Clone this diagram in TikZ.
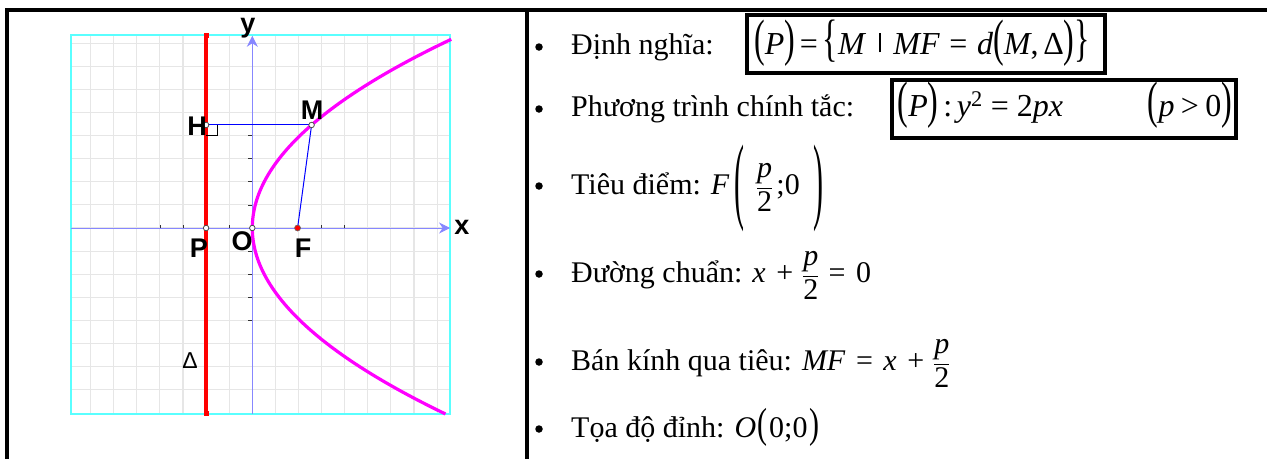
\documentclass[tikz,border=0pt]{standalone}
\usepackage{fontspec}
\setmainfont{Liberation Serif}
\newfontfamily\lsans{Liberation Sans}
\usetikzlibrary{arrows.meta}
\definecolor{gridc}{RGB}{230,230,230}
\definecolor{framec}{RGB}{90,255,255}
\definecolor{axisc}{RGB}{135,135,255}
\definecolor{magc}{RGB}{255,0,255}
\definecolor{redc}{RGB}{255,0,0}
\definecolor{segc}{RGB}{0,0,255}
\newcommand\I[1]{\textit{#1}}
\newcommand\tpar[3]{\raisebox{#2}{\scalebox{1}[#1]{#3}}}
\newcommand\pq[1]{\tpar{1.6}{-0.05em}{#1}}
\newcommand\bq[1]{\tpar{3.2}{-0.58em}{#1}}
\newcommand\oq[1]{\tpar{1.4}{-0.03em}{#1}}
\newcommand\fr[2]{$\displaystyle\frac{\mbox{#1}}{\mbox{#2}}$}
\newcommand\vbar{\rule[0.05em]{0.05em}{0.6em}}
\newcommand\hsp[1]{\hspace{#1em}}
\begin{document}
\begin{tikzpicture}[x=1pt,y=-1pt,
  tbl/.style={line width=4pt,black},
  gridl/.style={gridc,line width=1.1pt},
  framel/.style={framec,line width=1.4pt},
  axisl/.style={axisc,line width=1pt},
  tickl/.style={black!80,line width=0.8pt},
  seg/.style={segc,line width=1pt},
  pt/.style={circle,draw=black!70,fill=white,line width=0.8pt,inner sep=0pt,minimum size=5.5pt},
  fpt/.style={circle,draw=black!60,fill=redc,line width=0.6pt,inner sep=0pt,minimum size=6pt},
  lbl/.style={font=\lsans\bfseries\fontsize{27}{27}\selectfont,inner sep=0pt,anchor=base},
  txt/.style={font=\fontsize{30}{36}\selectfont,inner sep=0pt,anchor=base west},
  bul/.style={circle,fill=black,inner sep=0pt,minimum size=7.5pt},
  fbox/.style={draw=black,line width=4pt,font=\fontsize{32}{38}\selectfont,inner xsep=4pt,inner ysep=8pt,anchor=base west}
]
\useasboundingbox (0,0) rectangle (1267,459);
% table
\draw[tbl] (5,10) -- (1267,10);
\draw[tbl] (7,8) -- (7,459);
\draw[tbl] (526.5,8) -- (526.5,459);
% graph
\begin{scope}[shift={(252.3,228)},x=23.1pt,y=23.1pt]
  \foreach \i in {-7,...,8} \draw[gridl] (\i,-8.05) -- (\i,8.35);
  \foreach \j in {-7,...,8} \draw[gridl] (-7.85,\j) -- (8.56,\j);
  \draw[framel] (-7.85,-8.05) rectangle (8.56,8.35);
  \coordinate (O) at (0,0);
  \coordinate (P) at (-2,0);
  \coordinate (F) at (1.96,0);
  \coordinate (M) at (2.567,4.46);
  \coordinate (H) at (-2,4.46);
  \coordinate (xs) at (-7.85,0);
  \coordinate (xe) at (8.56,0);
  \coordinate (ys) at (0,-8.05);
  \coordinate (ye) at (0,8.32);
  \coordinate (Dt) at (-2,8.35);
  \coordinate (Db) at (-2,-8.05);
  \draw[axisl,-{Stealth[length=11pt,width=11pt]}] (xs) -- (xe);
  \draw[axisl,-{Stealth[length=11pt,width=11pt]}] (ys) -- (ye);
  \foreach \i in {-4,-3,-1,3,4} \draw[tickl] (\i,0) -- (\i,0.14);
  \foreach \j in {-4,-3,-2,-1,1,2,3,4} \draw[tickl] (0,\j) -- (-0.17,\j);
  \draw[redc,line width=3.4pt] (Db) -- (Dt);
  \fill[redc] ([xshift=-2.6pt,yshift=-2.5pt]Dt) rectangle ([xshift=2.6pt,yshift=2.5pt]Dt);
  \fill[redc] ([xshift=-2.6pt,yshift=-2.5pt]Db) rectangle ([xshift=2.6pt,yshift=2.5pt]Db);
  \draw[magc,line width=3.2pt] plot[variable=\t,domain=-8.05:8.17,samples=120,smooth] ({\t*\t/7.75},\t);
  \draw[seg] (H) -- (M);
  \draw[seg] (M) -- (F);
  \draw[black,line width=0.8pt] ([xshift=11pt]H) -- ([xshift=11pt,yshift=-10pt]H) -- ([yshift=-10pt]H);
  \node[pt] (nH) at (H) {};
  \node[pt] (nM) at (M) {};
  \node[pt] (nP) at (P) {};
  \node[pt] (nO) at (O) {};
  \node[fpt] (nF) at (F) {};
\end{scope}
\node[lbl] (ly) at (248,32) {y};
\node[lbl] (lx) at (462,234) {x};
\node[lbl] (lM) at (312,119) {M};
\node[lbl] (lH) at (197,135) {H};
\node[lbl] (lP) at (199,257) {P};
\node[lbl] (lO) at (242,250) {O};
\node[lbl] (lF) at (303,257) {F};
\node[font=\lsans\fontsize{23}{23}\selectfont,inner sep=0pt,anchor=base] (lD) at (190,368) {Δ};
% right column
\node[bul] (u1) at (539,47) {};
\node[txt] (t1) at (571,54) {Định nghĩa:};
\node[fbox,text width=350pt,text height=31.5pt,text depth=10.5pt] (box1) at (745,54) {\hsp{0.1}\pq{(}\I{P}\pq{)}\hsp{0.15}=\hsp{0.15}\pq{\{}\I{M}\hsp{0.4}\vbar\hsp{0.4}\I{MF}\hsp{0.3}=\hsp{0.3}\I{d}\pq{(}\I{M},\hsp{0.15}Δ\pq{)}\pq{\}}};
\node[bul] (u2) at (539,109) {};
\node[txt] (t2) at (571,116) {Phương trình chính tắc:};
\node[fbox,text width=336pt,text height=28pt,text depth=13.5pt] (box2) at (890,116) {\hsp{0.05}\pq{(}\I{P}\pq{)}\hsp{0.15}:\hsp{0.15}\I{y}\textsuperscript{2}\hsp{0.25}=\hsp{0.25}2\I{px}\hfill\pq{(}\I{p}\hsp{0.2}>\hsp{0.2}0\pq{)}\hsp{0.05}};
\node[bul] (u3) at (539,186) {};
\node[txt] (t3) at (571,194) {Tiêu điểm: \I{F}\hsp{0.15}\bq{(}\hsp{0.4}\fr{\I{p}}{2}\hsp{0.1};0\hsp{0.45}\bq{)}};
\node[bul] (u4) at (539,274) {};
\node[txt] (t4) at (571,282) {Đường chuẩn: \I{x}\hsp{0.35}+\hsp{0.3}\fr{\I{p}}{2}\hsp{0.3}=\hsp{0.35}0};
\node[bul] (u5) at (539,362) {};
\node[txt] (t5) at (571,370) {Bán kính qua tiêu: \I{MF}\hsp{0.35}=\hsp{0.35}\I{x}\hsp{0.35}+\hsp{0.3}\fr{\I{p}}{2}};
\node[bul] (u6) at (539,429) {};
\node[txt] (t6) at (571,437) {Tọa độ đỉnh: \I{O}\hsp{0.05}\oq{(}\hsp{0.05}0;0\hsp{0.05}\oq{)}};
\end{tikzpicture}
\end{document}
